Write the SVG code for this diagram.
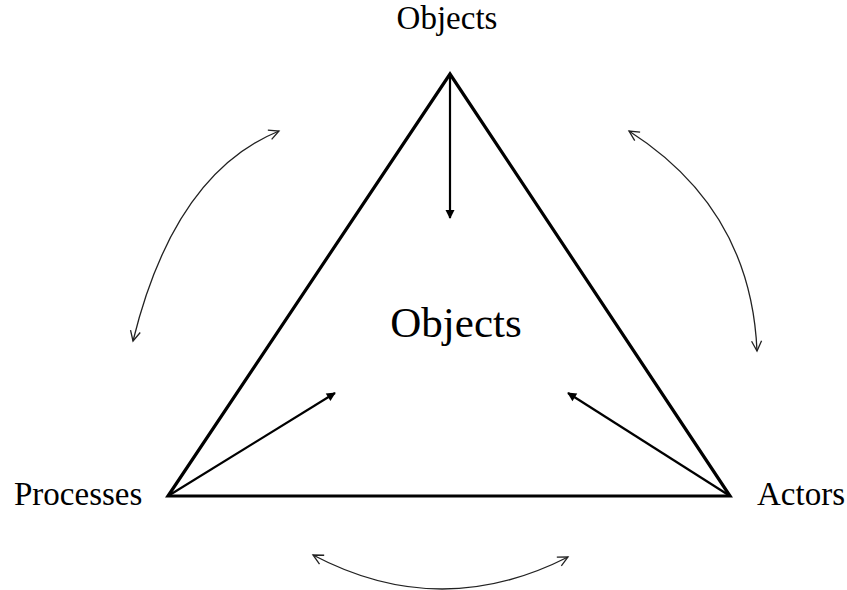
<svg xmlns="http://www.w3.org/2000/svg" width="847" height="590" viewBox="0 0 847 590">
<style>
.lbl{font-family:"Liberation Serif","Times New Roman",serif;fill:#000}
.tri{fill:none;stroke:#000;stroke-width:3.2;stroke-linejoin:miter}
.arr{fill:none;stroke:#000;stroke-width:2.2}
.cur{fill:none;stroke:#222;stroke-width:1.3}
</style>
<defs>
<marker id="fill" viewBox="0 0 10 10" refX="9" refY="5" markerWidth="10" markerHeight="9" markerUnits="userSpaceOnUse" orient="auto" overflow="visible">
<path d="M0,0 L10,5 L0,10 z" fill="#000"/>
</marker>
<marker id="open" viewBox="0 0 12 12" refX="11" refY="6" markerWidth="12" markerHeight="12" markerUnits="userSpaceOnUse" orient="auto-start-reverse" overflow="visible">
<path d="M1,1 L11,6 L1,11" fill="none" stroke="#222" stroke-width="1.3"/>
</marker>
</defs>
<g id="triangle">
<polygon class="tri" points="450,74 168,496 730,496"/>
</g>
<g id="node-objects-top"><text class="lbl" x="447" y="29" font-size="33" text-anchor="middle">Objects</text></g>
<g id="node-objects-center"><text class="lbl" x="456" y="337" font-size="43" text-anchor="middle">Objects</text></g>
<g id="node-processes"><text class="lbl" x="14" y="505" font-size="33">Processes</text></g>
<g id="node-actors"><text class="lbl" x="757" y="505" font-size="33">Actors</text></g>
<g id="connectors">
<line class="arr" x1="450" y1="74" x2="450" y2="218" marker-end="url(#fill)"/>
<line class="arr" x1="168" y1="496" x2="335" y2="393" marker-end="url(#fill)"/>
<line class="arr" x1="730" y1="496" x2="568" y2="393" marker-end="url(#fill)"/>
<path class="cur" d="M133,341 Q174,174 279,131" marker-start="url(#open)" marker-end="url(#open)"/>
<path class="cur" d="M629,131 Q751,209 757,351" marker-start="url(#open)" marker-end="url(#open)"/>
<path class="cur" d="M313,555 Q440,622 568,557" marker-start="url(#open)" marker-end="url(#open)"/>
</g>
</svg>
